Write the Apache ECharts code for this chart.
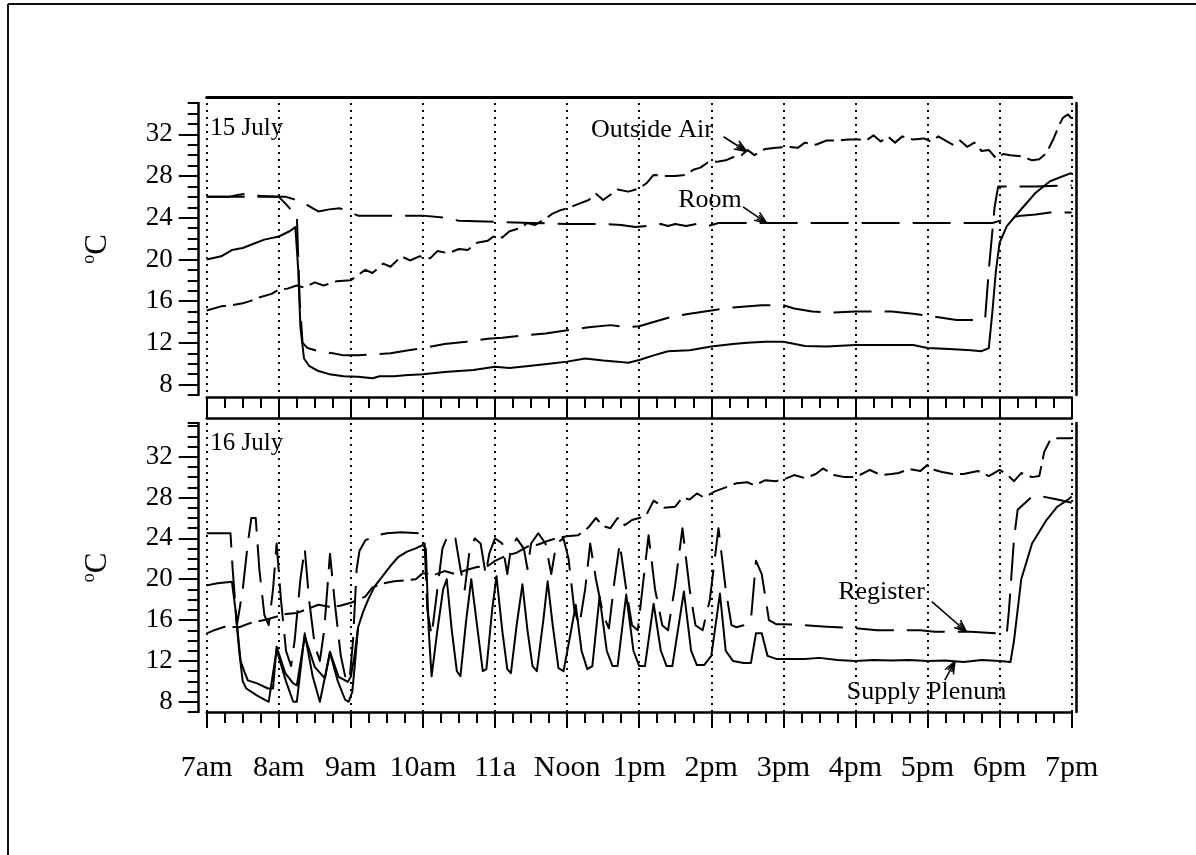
<!DOCTYPE html>
<html><head><meta charset="utf-8">
<script src="https://cdn.jsdelivr.net/npm/echarts@6/dist/echarts.min.js"></script>
<style>html,body{margin:0;padding:0;background:#fff}#c{width:1196px;height:855px}</style>
</head><body><div id="c"></div>
<script>
// ---- tick labels ----
const hourLabels = ['7am','8am','9am','10am','11a','Noon','1pm','2pm','3pm','4pm','5pm','6pm','7pm'];
const yMajorTicks = [8,12,16,20,24,28,32];
const panelTitles = ['15 July','16 July'];

// ---- 15 July (top panel): [hour of day, °C] ----
const outsideAir15 = [[7.0,15.1],[7.2,15.5],[7.35,15.6],[7.5,15.8],[7.6,16.0],[7.75,16.4],[7.9,16.7],[8.0,17.1],[8.12,17.2],[8.25,17.5],[8.35,17.3],[8.5,17.8],[8.62,17.5],[8.8,17.9],[9.0,18.0],[9.1,18.5],[9.2,19.0],[9.3,18.7],[9.45,19.6],[9.55,19.3],[9.7,20.3],[9.82,19.9],[9.95,20.3],[10.1,20.1],[10.2,20.8],[10.35,20.6],[10.5,21.0],[10.62,20.9],[10.75,21.6],[10.9,21.8],[11.0,22.3],[11.1,22.1],[11.2,22.7],[11.35,23.0],[11.45,23.5],[11.55,23.3],[11.7,23.9],[11.8,24.4],[11.9,24.7],[12.0,24.9],[12.15,25.3],[12.3,25.7],[12.4,26.3],[12.5,25.7],[12.6,26.2],[12.7,26.7],[12.85,26.5],[13.0,26.8],[13.1,27.3],[13.2,28.1],[13.35,28.0],[13.5,28.0],[13.65,28.1],[13.75,28.6],[13.85,28.8],[13.95,29.3],[14.1,29.4],[14.2,29.5],[14.3,29.8],[14.42,30.0],[14.5,30.5],[14.6,30.0],[14.75,30.6],[14.9,30.7],[15.05,30.8],[15.2,30.7],[15.3,31.2],[15.45,31.0],[15.6,31.4],[15.75,31.4],[15.9,31.5],[16.05,31.5],[16.15,31.4],[16.25,31.9],[16.35,31.3],[16.45,31.8],[16.55,31.2],[16.65,31.8],[16.8,31.5],[16.95,31.6],[17.05,31.3],[17.15,31.8],[17.25,31.4],[17.35,31.0],[17.45,31.4],[17.55,30.8],[17.65,31.2],[17.75,30.4],[17.85,30.5],[17.95,29.7],[18.05,30.1],[18.15,30.0],[18.3,29.9],[18.45,29.5],[18.55,29.6],[18.65,30.2],[18.75,31.6],[18.82,32.8],[18.88,33.6],[18.95,33.9],[19.0,33.5]];
const room15 = [[7.0,26.0],[7.3,26.0],[7.45,26.2],[7.55,26.3],[7.7,26.1],[8.0,26.0],[8.1,26.0],[8.3,25.6],[8.45,25.0],[8.55,24.6],[8.7,24.8],[8.85,24.9],[9.0,24.5],[9.1,24.2],[9.5,24.2],[10.0,24.2],[10.3,24.0],[10.5,23.7],[11.0,23.6],[11.5,23.5],[12.0,23.4],[12.5,23.4],[12.75,23.3],[12.95,23.1],[13.1,23.2],[13.3,23.4],[13.4,23.2],[13.5,23.4],[13.65,23.2],[13.8,23.4],[13.95,23.2],[14.1,23.5],[15.0,23.5],[16.0,23.5],[17.0,23.5],[17.9,23.5],[18.0,23.7],[18.15,24.0],[18.3,24.2],[18.5,24.3],[18.7,24.5],[19.0,24.5]];
const register15 = [[7.0,26.0],[7.5,26.0],[8.0,26.0],[8.1,25.3],[8.2,24.5],[8.25,24.3],[8.29,16.0],[8.33,12.0],[8.4,11.5],[8.55,11.2],[8.75,11.0],[8.9,10.8],[9.1,10.8],[9.3,10.9],[9.55,11.0],[9.8,11.3],[10.0,11.5],[10.3,11.9],[10.6,12.1],[10.9,12.4],[11.1,12.5],[11.4,12.7],[11.7,12.9],[12.0,13.2],[12.3,13.5],[12.6,13.7],[12.85,13.5],[13.0,13.6],[13.2,14.0],[13.45,14.5],[13.7,14.8],[14.0,15.1],[14.3,15.4],[14.7,15.6],[15.0,15.6],[15.15,15.3],[15.4,15.0],[15.7,14.9],[16.0,15.0],[16.5,15.0],[16.8,14.8],[17.1,14.5],[17.4,14.2],[17.7,14.2],[17.8,14.4],[17.85,19.0],[17.93,25.0],[17.98,27.0],[18.5,27.0],[19.0,27.1]];
const supply15 = [[7.0,20.0],[7.2,20.3],[7.35,20.9],[7.5,21.1],[7.65,21.5],[7.8,21.9],[8.0,22.2],[8.15,22.7],[8.23,23.1],[8.27,19.0],[8.3,13.5],[8.35,10.5],[8.42,9.8],[8.55,9.3],[8.7,9.0],[8.9,8.8],[9.1,8.75],[9.3,8.6],[9.4,8.8],[9.6,8.8],[9.75,8.9],[10.0,9.0],[10.3,9.2],[10.7,9.4],[11.0,9.7],[11.2,9.6],[11.5,9.8],[11.75,10.0],[12.0,10.2],[12.25,10.5],[12.5,10.3],[12.7,10.2],[12.85,10.1],[13.0,10.35],[13.2,10.8],[13.4,11.2],[13.7,11.3],[14.0,11.65],[14.3,11.9],[14.5,12.0],[14.75,12.1],[15.0,12.1],[15.3,11.7],[15.6,11.65],[16.0,11.8],[16.5,11.8],[16.8,11.8],[17.0,11.5],[17.3,11.4],[17.6,11.3],[17.75,11.2],[17.85,11.5],[17.9,15.0],[17.95,19.0],[18.0,21.6],[18.1,23.2],[18.26,24.5],[18.4,25.6],[18.5,26.4],[18.7,27.5],[18.85,27.9],[19.0,28.3]];

// ---- 16 July (bottom panel) ----
const outsideAir16 = [[7.0,14.7],[7.1,15.0],[7.25,15.35],[7.45,15.3],[7.6,15.7],[7.8,16.0],[7.95,16.3],[8.1,16.6],[8.25,16.7],[8.4,17.1],[8.55,17.5],[8.7,17.3],[8.85,17.4],[9.0,17.7],[9.2,18.3],[9.3,19.2],[9.45,19.6],[9.6,19.8],[9.75,19.9],[9.9,20.0],[10.0,20.6],[10.15,20.4],[10.3,20.8],[10.45,20.5],[10.6,20.9],[10.75,21.2],[10.9,21.3],[11.0,21.8],[11.15,22.3],[11.3,22.6],[11.45,23.2],[11.6,23.4],[11.75,23.8],[11.9,24.1],[12.0,24.2],[12.15,24.3],[12.3,25.1],[12.4,26.0],[12.5,25.2],[12.6,25.0],[12.7,26.0],[12.8,25.3],[12.9,25.8],[13.0,26.0],[13.1,26.3],[13.2,27.7],[13.35,27.0],[13.5,27.1],[13.6,28.0],[13.7,27.8],[13.8,28.4],[13.9,28.0],[14.05,28.6],[14.2,29.0],[14.35,29.4],[14.5,29.5],[14.6,29.2],[14.75,29.7],[14.9,29.6],[15.05,29.9],[15.15,30.2],[15.3,29.9],[15.45,30.3],[15.55,30.85],[15.7,30.2],[15.85,30.0],[16.0,30.0],[16.2,30.7],[16.35,30.2],[16.5,30.3],[16.6,30.4],[16.75,30.8],[16.9,30.6],[17.0,31.2],[17.1,30.7],[17.2,30.5],[17.35,30.3],[17.5,30.3],[17.7,30.6],[17.85,30.1],[18.0,30.7],[18.1,30.3],[18.2,29.6],[18.3,30.4],[18.45,30.0],[18.55,30.1],[18.62,32.5],[18.7,33.6],[18.8,33.8],[19.0,33.8]];
const register16 = [[7.0,24.5],[7.33,24.5],[7.36,21.0],[7.42,15.5],[7.5,19.0],[7.57,23.5],[7.62,26.0],[7.68,26.0],[7.73,21.0],[7.8,16.5],[7.86,15.5],[7.92,19.0],[7.97,23.5],[8.03,18.0],[8.1,13.0],[8.17,11.5],[8.22,14.0],[8.3,20.0],[8.36,23.0],[8.42,18.0],[8.5,13.5],[8.57,12.0],[8.63,15.0],[8.71,22.5],[8.78,17.5],[8.86,12.5],[8.93,10.2],[8.98,10.0],[9.03,14.0],[9.08,21.0],[9.12,22.8],[9.2,23.8],[9.35,24.3],[9.5,24.5],[9.7,24.6],[9.98,24.5],[10.02,24.0],[10.06,17.0],[10.12,14.5],[10.2,19.0],[10.27,23.0],[10.35,24.4],[10.45,24.0],[10.52,21.0],[10.58,19.0],[10.65,23.0],[10.72,24.0],[10.8,23.5],[10.87,20.5],[10.92,22.5],[11.0,24.0],[11.1,23.5],[11.17,20.5],[11.22,23.0],[11.3,24.0],[11.4,23.0],[11.45,21.0],[11.5,23.5],[11.6,24.5],[11.7,23.5],[11.78,20.5],[11.85,23.5],[11.95,24.0],[12.02,22.0],[12.1,17.0],[12.17,15.5],[12.25,19.0],[12.32,23.5],[12.4,20.0],[12.5,16.5],[12.58,15.2],[12.66,20.0],[12.73,23.5],[12.82,19.0],[12.9,15.5],[12.98,15.0],[13.06,20.0],[13.13,24.3],[13.22,19.0],[13.32,15.5],[13.4,15.0],[13.5,19.5],[13.6,25.0],[13.7,19.0],[13.78,15.5],[13.88,15.0],[13.98,18.0],[14.1,25.0],[14.2,19.0],[14.28,15.5],[14.35,15.3],[14.45,15.5],[14.55,16.0],[14.62,21.8],[14.7,20.5],[14.8,16.0],[14.9,15.6],[15.0,15.6],[15.3,15.5],[15.6,15.35],[16.0,15.2],[16.3,15.0],[16.9,15.0],[17.1,14.85],[17.6,14.85],[18.0,14.7],[18.1,14.7],[18.13,17.0],[18.2,24.0],[18.25,26.8],[18.45,28.1],[18.6,28.1],[18.8,27.8],[19.0,27.5]];
const supply16 = [[7.0,19.4],[7.15,19.6],[7.35,19.75],[7.4,17.0],[7.47,12.0],[7.52,11.0],[7.57,10.1],[7.7,9.8],[7.85,9.3],[7.92,9.3],[7.97,13.4],[8.09,10.8],[8.2,9.8],[8.25,9.6],[8.36,14.4],[8.5,11.4],[8.64,10.3],[8.71,12.9],[8.83,10.45],[8.96,9.95],[9.0,10.5],[9.05,12.5],[9.1,15.3],[9.17,16.8],[9.24,18.0],[9.33,19.3],[9.43,20.2],[9.55,21.3],[9.66,22.2],[9.78,22.7],[9.89,23.0],[10.0,23.35],[10.04,23.0],[10.08,15.0],[10.12,10.5],[10.2,15.0],[10.28,19.0],[10.33,20.0],[10.4,15.0],[10.47,11.0],[10.52,10.5],[10.6,16.0],[10.67,20.0],[10.75,15.5],[10.83,11.0],[10.88,11.2],[10.96,17.0],[11.02,20.3],[11.1,15.0],[11.17,11.2],[11.22,10.8],[11.3,15.5],[11.38,19.5],[11.45,15.0],[11.52,11.5],[11.58,11.0],[11.67,16.0],[11.73,19.8],[11.8,15.5],[11.88,11.3],[11.95,11.0],[12.03,14.0],[12.12,17.5],[12.2,13.0],[12.28,11.2],[12.35,11.5],[12.45,18.3],[12.55,13.0],[12.63,11.5],[12.7,11.5],[12.82,18.5],[12.92,13.0],[13.0,11.5],[13.08,11.5],[13.2,17.6],[13.3,13.0],[13.38,11.5],[13.46,11.5],[13.62,18.8],[13.72,13.0],[13.8,11.6],[13.9,11.6],[14.0,12.5],[14.12,18.6],[14.2,13.0],[14.3,12.0],[14.45,11.8],[14.55,11.8],[14.62,14.7],[14.7,14.7],[14.78,12.5],[14.9,12.2],[15.0,12.2],[15.3,12.2],[15.5,12.3],[15.75,12.1],[16.0,12.0],[16.25,12.1],[16.5,12.05],[16.75,12.1],[17.0,12.0],[17.25,12.05],[17.5,11.9],[17.75,12.1],[18.0,12.0],[18.15,11.9],[18.2,14.0],[18.3,20.0],[18.45,23.5],[18.65,25.8],[18.8,27.1],[18.95,27.8],[19.0,28.1]];
const supply16Lower = [[7.4,17.0],[7.45,13.0],[7.5,10.0],[7.55,9.3],[7.7,8.6],[7.86,8.0],[7.97,13.1],[8.1,10.0],[8.2,8.0],[8.25,8.0],[8.36,14.7],[8.47,10.5],[8.57,8.0],[8.71,12.8],[8.82,10.0],[8.92,8.2],[8.97,8.0],[9.02,9.0],[9.06,12.0],[9.1,15.3]];

// ---- annotations, anchored in data space: [panel, text, textAnchor, arrowTail, arrowTip] ----
const annotations = [
  [0, 'Outside Air', [12.33, 32.35], [14.17, 31.76], [14.49, 30.35]],
  [0, 'Room', [13.54, 25.7], [14.44, 25.04], [14.77, 23.48]],
  [1, 'Register', [15.76, 18.74], [17.06, 17.8], [17.54, 14.86]],
  [1, 'Supply Plenum', [15.88, 8.95], [17.24, 10.13], [17.38, 11.95]]
];
const titleAnchors = [[7.05, 32.6], [7.05, 33.3]];

const FONT = '"Liberation Serif", "Times New Roman", serif';
const INK = '#000';
const SHORT_DASH = [20, 7];
const LONG_DASH = [38, 13];

const chart = echarts.init(document.getElementById('c'), null, {renderer: 'canvas'});

function xAxisBase(grid) {
  return {type: 'value', gridIndex: grid, min: 7, max: 19, interval: 1};
}
function yAxisSet(grid, max) {
  return [
    {type: 'value', gridIndex: grid, position: 'left', offset: 8, min: 7, max: max, interval: 1,
     axisLine: {show: true, lineStyle: {color: INK, width: 2.5}},
     axisTick: {show: true, length: 11, lineStyle: {color: INK, width: 2}},
     axisLabel: {show: true, margin: 26, fontFamily: FONT, fontSize: 27, color: INK,
       formatter: v => (yMajorTicks.indexOf(Math.round(v * 100) / 100) >= 0 ? String(v) : '')},
     splitLine: {show: false},
     name: '{o|o}C', nameLocation: 'middle', nameRotate: 90, nameGap: 84,
     nameTextStyle: {fontFamily: FONT, fontSize: 31, color: INK, lineHeight: 34,
       rich: {o: {fontFamily: FONT, fontSize: 18, color: INK, verticalAlign: 'top', lineHeight: 34}}}},
    {type: 'value', gridIndex: grid, position: 'left', offset: 8, min: 7, max: max,
     axisLine: {show: false},
     axisTick: {show: true, length: 20, customValues: yMajorTicks, lineStyle: {color: INK, width: 2}},
     axisLabel: {show: false}, splitLine: {show: false}},
    {type: 'value', gridIndex: grid, position: 'right', offset: 5, min: 7, max: max,
     axisLine: {show: true, lineStyle: {color: INK, width: 2.5}},
     axisTick: {show: false}, axisLabel: {show: false}, splitLine: {show: false}}
  ];
}

const dotted = {show: true, lineStyle: {color: INK, width: 2, type: [2, 5]}};

function lineSeries(name, data, xi, yi, dash) {
  return {
    name: name, type: 'line', data: data, xAxisIndex: xi, yAxisIndex: yi,
    showSymbol: false, symbol: 'none', silent: true, animation: false,
    lineStyle: {color: INK, width: 2, type: dash, cap: 'butt', join: 'round'}
  };
}

const option = {
  backgroundColor: '#fff',
  animation: false,
  grid: [
    {left: 206.7, right: 124.3, top: 103, height: 292},
    {left: 206.7, right: 124.3, top: 423, height: 289}
  ],
  xAxis: [
    Object.assign(xAxisBase(0), {position: 'bottom', offset: 2,
      axisLine: {show: true, lineStyle: {color: INK, width: 2.5}},
      axisTick: {show: true, length: 21, lineStyle: {color: INK, width: 2}},
      minorTick: {show: true, splitNumber: 4, length: 11, lineStyle: {color: INK, width: 2}},
      axisLabel: {show: false}, splitLine: dotted}),
    Object.assign(xAxisBase(0), {position: 'top', offset: 6,
      axisLine: {show: true, lineStyle: {color: INK, width: 3}},
      axisTick: {show: false}, axisLabel: {show: false}, splitLine: {show: false}}),
    Object.assign(xAxisBase(1), {position: 'bottom', offset: 0,
      axisLine: {show: true, lineStyle: {color: INK, width: 2.5}},
      axisTick: {show: true, length: 16, lineStyle: {color: INK, width: 2}},
      minorTick: {show: true, splitNumber: 4, length: 11, lineStyle: {color: INK, width: 2}},
      axisLabel: {show: true, margin: 41, fontFamily: FONT, fontSize: 30, color: INK,
        formatter: v => {const i = Math.round(v - 7); return Math.abs(v - 7 - i) < 1e-6 && hourLabels[i] ? hourLabels[i] : '';}},
      splitLine: dotted}),
    Object.assign(xAxisBase(1), {position: 'top', offset: 5,
      axisLine: {show: true, lineStyle: {color: INK, width: 2.5}},
      axisTick: {show: false}, axisLabel: {show: false}, splitLine: {show: false}})
  ],
  yAxis: [].concat(yAxisSet(0, 35), yAxisSet(1, 35.3)),
  series: [
    lineSeries('Outside Air (15 July)', outsideAir15, 0, 0, SHORT_DASH),
    lineSeries('Room (15 July)', room15, 0, 0, LONG_DASH),
    lineSeries('Register (15 July)', register15, 0, 0, LONG_DASH),
    lineSeries('Supply Plenum (15 July)', supply15, 0, 0, 'solid'),
    lineSeries('Outside Air (16 July)', outsideAir16, 2, 3, SHORT_DASH),
    lineSeries('Register (16 July)', register16, 2, 3, LONG_DASH),
    lineSeries('Supply Plenum (16 July)', supply16, 2, 3, 'solid'),
    lineSeries('Supply Plenum lower trace (16 July)', supply16Lower, 2, 3, 'solid')
  ]
};
chart.setOption(option);

// annotations, placed through the chart's own coordinate conversion
const gridFinder = p => ({xAxisIndex: p === 0 ? 0 : 2, yAxisIndex: p === 0 ? 0 : 3});
const graphics = [];
graphics.push({type: 'line', shape: {x1: 8, y1: 4, x2: 8, y2: 855}, style: {stroke: '#111', lineWidth: 2}, silent: true});
graphics.push({type: 'line', shape: {x1: 8, y1: 4, x2: 1196, y2: 4}, style: {stroke: '#111', lineWidth: 2}, silent: true});
titleAnchors.forEach((a, p) => {
  const pt = chart.convertToPixel(gridFinder(p), a);
  graphics.push({type: 'text', x: pt[0], y: pt[1], silent: true,
    style: {text: panelTitles[p], font: '25px ' + FONT, fill: INK, align: 'left', verticalAlign: 'middle'}});
});
annotations.forEach(a => {
  const f = gridFinder(a[0]);
  const tp = chart.convertToPixel(f, a[2]);
  const tail = chart.convertToPixel(f, a[3]);
  const tip = chart.convertToPixel(f, a[4]);
  graphics.push({type: 'text', x: tp[0], y: tp[1], silent: true,
    style: {text: a[1], font: '26px ' + FONT, fill: INK, align: 'left', verticalAlign: 'middle'}});
  graphics.push({type: 'line', silent: true, shape: {x1: tail[0], y1: tail[1], x2: tip[0], y2: tip[1]},
    style: {stroke: INK, lineWidth: 1.6}});
  const ang = Math.atan2(tip[1] - tail[1], tip[0] - tail[0]);
  [0.38, -0.38, 0.2, -0.2].forEach((d, k) => {
    const len = k < 2 ? 13 : 11;
    graphics.push({type: 'line', silent: true,
      shape: {x1: tip[0], y1: tip[1], x2: tip[0] - len * Math.cos(ang + d), y2: tip[1] - len * Math.sin(ang + d)},
      style: {stroke: INK, lineWidth: 1.5}});
  });
});
chart.setOption({graphic: graphics});
</script>
</body></html>
